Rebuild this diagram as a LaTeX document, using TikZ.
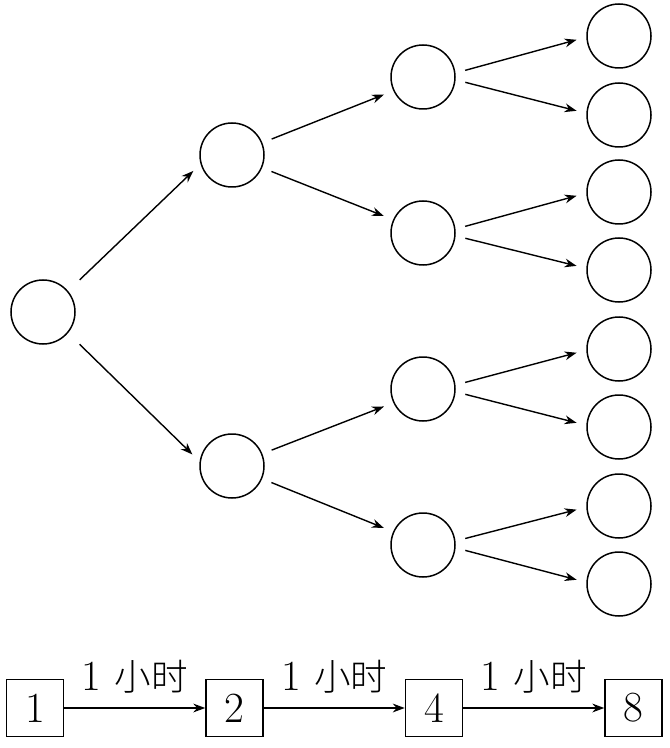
\documentclass[tikz,border=0pt]{standalone}
\usepackage{fontspec}
\newfontfamily\cjk{Noto Sans CJK SC}[Scale=0.85, UprightFont=* Light]
\usetikzlibrary{arrows.meta, positioning}
\tikzset{
  ball/.style={
    circle, draw, line width=0.75pt,
    minimum size=32pt, inner sep=0pt
  },
  box/.style={
    rectangle, draw, line width=0.75pt,
    minimum size=28.5pt, inner sep=0pt,
    font=\fontsize{21.5}{24}\selectfont
  },
  line/.style={draw, -{Stealth[length=6pt, width=4.4pt]}, line width=0.7pt,
    shorten <=5pt, shorten >=5pt},
  hour/.style={above=7pt, inner sep=0pt, font=\fontsize{21.5}{24}\selectfont},
}

\begin{document}
\begin{tikzpicture}[x=0.5pt, y=-0.5pt, node distance=70.5pt]
  \useasboundingbox (0,0) rectangle (669,748);

  % Tree
  \node[ball] (root) at (43,312) {};

  \node[ball] (up)   at (232,155) {};
  \node[ball] (down) at (232,466) {};

  \node[ball] (uu) at (423,77) {};
  \node[ball] (ud) at (423,233) {};
  \node[ball] (du) at (423,389) {};
  \node[ball] (dd) at (423,545) {};

  \node[ball] (uuu) at (619,36) {};
  \node[ball] (uud) at (619,115) {};
  \node[ball] (udu) at (619,192) {};
  \node[ball] (udd) at (619,270) {};
  \node[ball] (duu) at (619,349) {};
  \node[ball] (dud) at (619,427) {};
  \node[ball] (ddu) at (619,506) {};
  \node[ball] (ddd) at (619,584) {};

  % Tree arrows
  \draw[line, shorten <=8pt] (root.40)  -- (up.196);
  \draw[line, shorten <=8pt] (root.-40) -- (down.172);

  \draw[line] (up.22)    -- (uu.205);
  \draw[line] (up.-23)   -- (ud.156);
  \draw[line] (down.22)  -- (du.205);
  \draw[line] (down.-23) -- (dd.156);

  \draw[line] (uu.7)  -- (uuu.182);
  \draw[line] (uu.-5) -- (uud.177);
  \draw[line] (ud.7)  -- (udu.182);
  \draw[line] (ud.-5) -- (udd.177);
  \draw[line] (du.7)  -- (duu.182);
  \draw[line] (du.-5) -- (dud.177);
  \draw[line] (dd.7)  -- (ddu.182);
  \draw[line] (dd.-5) -- (ddd.177);

  % Doubling row
  \node[box] (one) at (35,708) {1};
  \node[box, right=of one]   (two)   {2};
  \node[box, right=of two]   (four)  {4};
  \node[box, right=of four]  (eight) {8};

  \draw[line, shorten <=0pt, shorten >=0pt] (one)  -- node[hour] {1 {\cjk 小时}} (two);
  \draw[line, shorten <=0pt, shorten >=0pt] (two)  -- node[hour] {1 {\cjk 小时}} (four);
  \draw[line, shorten <=0pt, shorten >=0pt] (four) -- node[hour] {1 {\cjk 小时}} (eight);
\end{tikzpicture}
\end{document}
